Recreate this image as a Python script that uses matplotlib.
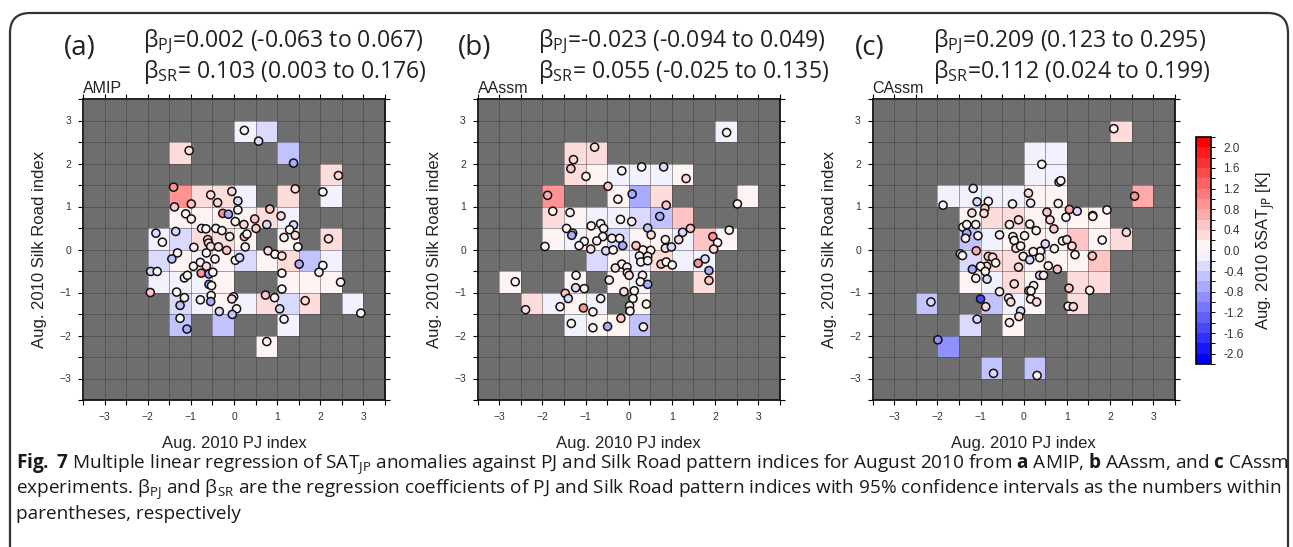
import matplotlib
matplotlib.use('Agg')
import matplotlib.pyplot as plt
import numpy as np
from matplotlib.colors import BoundaryNorm
from matplotlib.cm import ScalarMappable
from matplotlib.patches import FancyBboxPatch

plt.rcParams['font.family'] = ['Liberation Sans', 'DejaVu Sans']
plt.rcParams['mathtext.fontset'] = 'custom'
plt.rcParams['mathtext.rm'] = 'Open Sans'
plt.rcParams['mathtext.it'] = 'Open Sans:italic'
plt.rcParams['mathtext.bf'] = 'Open Sans:bold'

# ---- data: grid cells (left edge of PJ bin, lower edge of SR bin, dSAT) ----
cells_a = [(0.0, 2.5, -0.15), (0.5, 2.5, -0.3),
           (-1.5, 2.0, 0.3), (1.0, 2.0, -0.45),
           (2.0, 1.5, 0.25),
           (-1.5, 1.0, 0.8), (-1.0, 1.0, 0.35), (-0.5, 1.0, 0.35), (0.0, 1.0, -0.2), (1.0, 1.0, 0.25), (2.0, 1.0, -0.1),
           (-1.5, 0.5, 0.05), (-1.0, 0.5, 0.05), (-0.5, 0.5, 0.15), (0.0, 0.5, 0.1), (0.5, 0.5, 0.25), (1.0, 0.5, -0.1),
           (-2.0, 0.0, -0.1), (-1.5, 0.0, -0.25), (-1.0, 0.0, 0.25), (-0.5, 0.0, 0.2), (0.0, 0.0, 0.05), (1.0, 0.0, 0.02), (2.0, 0.0, 0.3),
           (-2.0, -0.5, -0.25), (-1.5, -0.5, 0.02), (-1.0, -0.5, -0.05), (-0.5, -0.5, 0.1), (0.0, -0.5, -0.3), (0.5, -0.5, 0.08),
           (1.0, -0.5, 0.2), (1.5, -0.5, -0.6), (2.0, -0.5, -0.1),
           (-2.0, -1.0, -0.1), (-1.5, -1.0, -0.05), (-1.0, -1.0, -0.2), (-0.5, -1.0, 0.05), (1.0, -1.0, 0.03), (1.5, -1.0, 0.08), (2.0, -1.0, 0.1),
           (-1.5, -1.5, -0.3), (-1.0, -1.5, -0.15), (-0.5, -1.5, 0.02), (0.0, -1.5, -0.15), (0.5, -1.5, 0.25), (1.0, -1.5, -0.35),
           (1.5, -1.5, 0.25), (2.5, -1.5, -0.1),
           (-1.5, -2.0, -0.5), (-0.5, -2.0, -0.5), (1.0, -2.0, -0.15),
           (0.5, -2.5, 0.08)]

cells_b = [(2.0, 2.5, -0.2),
           (-1.5, 2.0, 0.3), (-1.0, 2.0, 0.3),
           (-1.5, 1.5, 0.35), (-1.0, 1.5, 0.08), (-0.5, 1.5, -0.05), (0.0, 1.5, -0.1), (0.5, 1.5, -0.15), (1.0, 1.5, 0.15),
           (-2.0, 1.0, 0.8), (-0.5, 1.0, 0.05), (0.0, 1.0, -0.65), (0.5, 1.0, 0.3), (2.5, 1.0, 0.05),
           (-2.0, 0.5, 0.2), (-1.5, 0.5, 0.08), (-1.0, 0.5, -0.08), (-0.5, 0.5, -0.08), (0.0, 0.5, -0.25), (0.5, 0.5, -0.45), (1.0, 0.5, 0.55),
           (-2.0, 0.0, 0.05), (-1.5, 0.0, -0.08), (-1.0, 0.0, 0.03), (-0.5, 0.0, -0.3), (0.0, 0.0, 0.05), (0.5, 0.0, 0.0),
           (1.0, 0.0, -0.05), (1.5, 0.0, 0.55), (2.0, 0.0, 0.05),
           (-1.0, -0.5, -0.25), (-0.5, -0.5, 0.03), (0.0, -0.5, -0.1), (0.5, -0.5, 0.2), (1.0, -0.5, -0.08), (1.5, -0.5, -0.05),
           (-3.0, -1.0, 0.08), (-1.5, -1.0, 0.08), (-0.5, -1.0, 0.08), (0.0, -1.0, -0.15), (1.5, -1.0, 0.35),
           (-2.5, -1.5, 0.2), (-2.0, -1.5, -0.08), (-1.5, -1.5, 0.05), (-1.0, -1.5, -0.2), (0.0, -1.5, 0.03),
           (-1.5, -2.0, -0.05), (-1.0, -2.0, 0.05), (-0.5, -2.0, 0.05), (0.0, -2.0, -0.6)]

cells_c = [(2.0, 2.5, 0.2),
           (0.0, 2.0, -0.05), (0.5, 2.0, -0.05),
           (0.0, 1.5, -0.1), (0.5, 1.5, -0.08),
           (-2.0, 1.0, -0.08), (-1.5, 1.0, -0.2), (-1.0, 1.0, -0.08), (-0.5, 1.0, -0.2), (0.0, 1.0, 0.03), (0.5, 1.0, 0.0), (2.5, 1.0, 0.7),
           (-1.5, 0.5, 0.03), (-1.0, 0.5, 0.3), (-0.5, 0.5, 0.3), (0.0, 0.5, 0.08), (0.5, 0.5, 0.1), (1.0, 0.5, 0.15), (1.5, 0.5, 0.12),
           (-1.5, 0.0, -0.45), (-1.0, 0.0, -0.2), (-0.5, 0.0, 0.05), (0.0, 0.0, 0.02), (0.5, 0.0, 0.12), (1.0, 0.0, 0.4),
           (1.5, 0.0, 0.03), (2.0, 0.0, 0.3),
           (-1.5, -0.5, -0.3), (-1.0, -0.5, 0.2), (-0.5, -0.5, 0.2), (0.0, -0.5, 0.08), (0.5, -0.5, 0.15), (1.0, -0.5, 0.15), (1.5, -0.5, 0.5),
           (-1.5, -1.0, 0.0), (-1.0, -1.0, -0.15), (-0.5, -1.0, 0.25), (0.0, -1.0, 0.08), (1.0, -1.0, 0.35), (1.5, -1.0, 0.2),
           (-2.5, -1.5, -0.45), (-1.0, -1.5, -0.5), (-0.5, -1.5, -0.15), (0.0, -1.5, 0.05), (1.0, -1.5, 0.25),
           (-1.5, -2.0, -0.3), (-0.5, -2.0, 0.05),
           (-2.0, -2.5, -1.0),
           (-1.0, -3.0, -0.55), (0.0, -3.0, -0.55)]

# ---- data: ensemble members (PJ index, SR index, dSAT) ----
pj_a = [0.24, 0.57, -1.04, 1.38, 2.42, 2.06, 1.42, -1.40, -0.54, -0.05, -0.99, -0.38, 0.09, -1.38, -1.12, -0.99,
        -0.26, -0.13, 0.09, 0.83, 1.09, 0.03, 0.23, 0.48, 0.51, 0.76, 1.38, 1.29, 1.42, 1.16, 1.48, 2.19, -1.81,
        -1.66, -1.35, -0.75, -0.65, -0.42, -0.28, -0.10, 0.24, 0.30, -0.61, -0.59, -0.93, -0.54, -0.36, -0.17,
        0.26, -1.31, -1.44, -0.64, -0.44, 0.03, 0.13, 0.79, 0.95, 1.11, 1.51, 2.06, 1.97, 2.47, -1.93, -1.78,
        -0.94, -0.78, -0.76, -0.64, -0.58, -0.49, -1.15, -1.08, -0.58, -0.52, 1.11, 1.11, -1.94, -1.33, -1.15,
        -0.78, -0.53, -0.54, -0.01, -0.05, 0.73, 0.94, 1.65, -1.25, -0.34, 0.06, -0.04, 1.06, 1.16, -1.25,
        -1.09, 2.94, 0.76]
sr_a = [2.77, 2.52, 2.30, 2.01, 1.72, 1.34, 1.41, 1.45, 1.27, 1.35, 1.06, 1.09, 1.13, 0.99, 0.83, 0.71, 0.84, 0.82,
        0.92, 0.94, 0.78, 0.65, 0.58, 0.71, 0.49, 0.58, 0.57, 0.46, 0.33, 0.28, 0.06, 0.25, 0.38, 0.17, 0.42, 0.49,
        0.48, 0.49, 0.44, 0.30, 0.30, 0.36, 0.23, 0.15, 0.05, 0.07, 0.06, -0.02, 0.06, -0.08, -0.22, -0.08, -0.22,
        -0.25, -0.19, -0.03, -0.11, -0.15, -0.34, -0.37, -0.53, -0.76, -0.51, -0.51, -0.39, -0.30, -0.55, -0.39,
        -0.57, -0.53, -0.66, -0.60, -0.81, -0.84, -0.55, -0.92, -1.00, -0.99, -1.12, -1.17, -1.07, -1.21, -1.10,
        -1.15, -1.06, -1.12, -1.19, -1.30, -1.44, -1.38, -1.51, -1.38, -1.62, -1.60, -1.85, -1.48, -2.14]
val_a = [0, -0.3, 0.3, -0.7, 0.3, 0, 0.2, 0.8, 0.3, 0.3, 0.5, 0.3, -0.3, 0.4, 0, 0, 0.8, -0.7, 0, 0.5, 0.3, 0,
         0.3, 0.4, 0.4, -0.3, -0.4, 0, 0.3, 0, 0, 0.3, -0.3, 0, -0.3, 0, 0, -0.2, 0, 0, 0.4, 0, 0.3, 0.3, 0, 0.3,
         0.3, 0.4, 0, 0, -0.6, 0, 0, 0, -0.4, 0.3, 0, 0.3, -0.7, 0, 0, 0, -0.3, 0, 0, 0, 0.8, 0.3, -0.8, 0, 0, 0,
         -0.7, 0, 0, 0, 0.4, 0, 0, 0, 0, -0.8, 0, 0.3, 0.5, 0, 0.3, -0.6, -0.3, 0, -0.6, -0.3, 0, 0, -0.7, 0, 0]

pj_b = [2.27, -0.79, -1.28, -1.34, -0.99, -0.16, 0.30, 0.81, 1.33, -0.48, -1.88, -0.25, 0.08, 0.87, 2.52, -1.76,
        -1.36, -0.19, 0.07, 0.72, -1.44, -1.30, -1.32, -0.87, -0.65, -0.58, -0.60, -0.74, -1.03, -1.15, -0.88,
        -1.94, -0.39, -0.21, -0.14, -0.53, -0.36, 0.44, 0.52, 0.17, 0.33, 0.51, 0.25, 0.44, 0.28, 0.44, 0.85, 0.85,
        0.99, 1.16, 1.25, 1.43, 1.95, 2.06, 1.97, 2.33, 0.75, 0.87, 1.01, 1.61, 1.77, 1.86, 1.86, -0.16, -0.04,
        -0.31, -0.03, 0.01, 0.32, 0.27, 0.44, -0.45, -1.22, -1.23, -1.03, -1.47, -1.40, -0.11, 0.13, 0.10, -0.65,
        -1.59, -1.05, -0.83, 0.02, 0.03, 0.41, -2.39, -2.63, -0.18, -1.33, -0.83, -0.49, 0.34]
sr_b = [2.72, 2.38, 2.09, 1.88, 1.70, 1.83, 1.92, 1.92, 1.65, 1.47, 1.26, 1.17, 1.29, 1.03, 1.06, 0.89, 0.86, 0.70,
        0.65, 0.77, 0.49, 0.38, 0.33, 0.55, 0.60, 0.49, 0.30, 0.20, 0.19, 0.09, 0.01, 0.07, 0.26, 0.26, 0.09, -0.03,
        -0.01, 0.50, 0.34, 0.09, -0.01, -0.02, -0.15, -0.16, -0.29, -0.26, 0.23, 0.03, 0.06, 0.23, 0.40, 0.49, 0.30,
        0.16, 0.01, 0.45, -0.34, -0.29, -0.36, -0.32, -0.22, -0.49, -0.72, -0.34, -0.41, -0.43, -0.54, -0.60, -0.60,
        -0.75, -0.81, -0.71, -0.60, -0.89, -0.91, -1.02, -1.14, -0.98, -0.96, -1.14, -1.14, -1.33, -1.36, -1.45,
        -1.31, -1.43, -1.27, -1.40, -0.75, -1.60, -1.72, -1.82, -1.79, -1.80]
val_b = [0, 0.3, 0.2, 0.4, 0, 0, 0, -0.3, 0.3, 0.4, 0.6, 0, -0.7, 0.4, 0, 0, 0, 0, 0, -0.7, 0, 0.3, -0.7, 0, 0, 0,
         0, 0, 0, 0, 0.3, 0, 0, 0, -0.7, -0.3, 0, -0.6, 0.3, 0.4, 0, 0, 0, 0, 0, 0, 0, 0.3, -0.3, 0.3, -0.3, 0.5,
         0.8, 0, 0.3, 0, 0.4, 0, 0, 0.8, -0.4, -0.7, 0.4, 0, 0, 0.3, 0, 0.3, 0, 0, -0.7, 0, 0, -0.4, 0, 0.5, -0.4,
         0.3, 0, 0, 0, 0, 0.8, 0, 0, 0, 0, 0.3, 0, 0.4, 0, 0, -0.8, 0]

pj_c = [2.09, 0.42, 0.82, 0.86, -1.17, -1.87, -1.08, -0.82, -0.26, 0.11, 0.16, 0.80, -0.90, -0.92, -1.20, -1.41,
        -1.32, -1.11, -1.32, -1.35, -1.06, -0.56, -0.33, -0.12, -0.25, -0.22, -0.18, -0.07, 0.02, 0.14, 0.29, 0.54,
        0.61, 0.70, 0.98, 1.06, 1.24, 1.60, 1.60, 1.93, 2.38, 2.57, 0.90, 1.00, 1.12, 1.19, 1.59, 1.82, 0.71, 0.50,
        0.39, 0.22, -0.01, 0.14, 0.37, 0.57, 0.78, 0.37, 0.46, -0.12, -1.47, -1.42, -1.10, -0.82, -0.72, -0.65,
        -0.86, -1.00, -1.19, -0.89, -1.11, -0.85, -0.22, 0.23, 0.12, 0.17, -0.56, 1.05, 1.53, -2.15, -1.00, -0.88,
        -0.35, -0.30, 0.16, 0.30, 1.03, 1.15, -0.07, -0.11, -1.08, -0.33, -1.99, -0.70, 0.31]
sr_c = [2.81, 1.98, 1.57, 1.60, 1.42, 1.03, 1.11, 1.12, 1.06, 1.31, 1.08, 1.07, 0.96, 0.84, 0.85, 0.52, 0.58, 0.58,
        0.38, 0.26, 0.32, 0.34, 0.58, 0.69, 0.30, 0.21, 0.03, 0.08, 0.32, 0.59, 0.44, 0.87, 0.69, 0.48, 0.75, 0.93,
        0.89, 0.79, 0.77, 0.92, 0.40, 1.24, 0.20, 0.23, 0.08, -0.12, -0.15, 0.22, 0.02, 0.13, -0.04, -0.05, -0.16,
        -0.24, -0.19, -0.38, -0.46, -0.60, -0.60, -0.41, -0.10, -0.14, -0.03, -0.16, -0.18, -0.31, -0.39, -0.39,
        -0.46, -0.51, -0.67, -0.69, -0.80, -0.84, -0.96, -0.96, -0.98, -0.90, -0.95, -1.22, -1.15, -1.33, -1.13,
        -1.22, -1.15, -1.22, -1.32, -1.33, -1.43, -1.56, -1.62, -1.70, -2.10, -2.88, -2.93]
val_c = [0, 0, -0.3, 0, -0.2, 0, -0.3, 0, 0, 0.3, -0.2, 0, 0.4, 0.3, 0.3, 0, 0, 0, -0.8, 0, 0, 0, 0, 0.3, 0, 0,
         0.3, 0, 0, 0, 0, 0.4, 0.3, 0.4, 0, 0.6, -0.3, 0.3, 0, 0, 0.3, 0.8, 0, 0.3, 0.3, 0, 0.5, 0, 0, -0.3, 0, 0,
         0, -0.3, 0, 0, 0.4, -0.3, 0, 0.3, -0.4, 0, 0.6, 0.4, 0.3, 0, 0.2, 0, -0.8, 0, 0, -0.3, 0.3, 0, 0, 0, 0,
         0.4, 0, -0.4, -1.6, 0.3, 0, 0.3, 0, 0.3, 0, 0.3, -0.3, 0.3, -0.3, 0, -1.0, -0.4, 0]

experiments = ['AMIP', 'AAssm', 'CAssm']
panel_tags = ['(a)', '(b)', '(c)']
beta_pj = ['=0.002 (-0.063 to 0.067)', '=-0.023 (-0.094 to 0.049)', '=0.209 (0.123 to 0.295)']
beta_sr = ['= 0.103 (0.003 to 0.176)', '= 0.055 (-0.025 to 0.135)', '=0.112 (0.024 to 0.199)']
cbar_ticks = [-2.0, -1.6, -1.2, -0.8, -0.4, 0.0, 0.4, 0.8, 1.2, 1.6, 2.0]

# ---- figure ----
W, H = 1293, 547
fig = plt.figure(figsize=(W / 100, H / 100), dpi=100)

edges = np.arange(-3.5, 3.51, 0.5)
levels = np.round(np.arange(-2.2, 2.21, 0.2), 1)
cmap = plt.get_cmap('bwr')
norm = BoundaryNorm(levels, cmap.N)

ax_left = [83, 477.7, 872.7]
ax_w, ax_top, ax_bot = 302, 99, 400


def make_grid(cells):
    z = np.full((len(edges) - 1, len(edges) - 1), np.nan)
    for x0, y0, v in cells:
        i = int(round((x0 + 3.5) / 0.5))
        j = int(round((y0 + 3.5) / 0.5))
        z[j, i] = v
    return np.ma.masked_invalid(z)


all_cells = [cells_a, cells_b, cells_c]
all_pts = [(pj_a, sr_a, val_a), (pj_b, sr_b, val_b), (pj_c, sr_c, val_c)]

for k in range(3):
    ax = fig.add_axes([ax_left[k] / W, (H - ax_bot) / H, ax_w / W, (ax_bot - ax_top) / H])
    ax.set_facecolor('#6e6e6e')
    ax.pcolormesh(edges, edges, make_grid(all_cells[k]), cmap=cmap, norm=norm, zorder=1)
    pj, sr, vv = all_pts[k]
    ax.scatter(pj, sr, c=vv, cmap=cmap, norm=norm, s=34, edgecolors='#111111', linewidths=1.1, zorder=4)
    ax.set_xlim(-3.5, 3.5)
    ax.set_ylim(-3.5, 3.5)
    ax.set_xticks(np.arange(-3, 4, 1))
    ax.set_yticks(np.arange(-3, 4, 1))
    ax.set_xticks(np.arange(-3.5, 3.6, 0.5), minor=True)
    ax.set_yticks(np.arange(-3.5, 3.6, 0.5), minor=True)
    ax.set_axisbelow(False)
    ax.grid(which='both', color='#3a3a3a', lw=0.6, alpha=0.55, zorder=3)
    ax.tick_params(which='both', direction='out', top=True, right=True, length=3.5, width=0.8,
                   labelsize=7.5, labelcolor='#333333', pad=5)
    for sp in ax.spines.values():
        sp.set_linewidth(1.3)
        sp.set_color('#111111')
    ax.set_xlabel('Aug. 2010 PJ index', fontsize=12, labelpad=10, color='#222222')
    ax.set_ylabel('Aug. 2010 Silk Road index', fontsize=12, labelpad=9, color='#222222')
    ax.set_title(experiments[k], loc='left', fontsize=11.5, pad=4, color='#222222')

    # panel tag and regression coefficients
    fig.text((ax_left[k] - 3) / W, 1 - 48 / H, panel_tags[k], fontsize=20, family='Open Sans',
             ha='center', va='center', color='#222222')
    fig.text((ax_left[k] + 60) / W, 1 - 42 / H, 'β$_{\\mathrm{PJ}}$' + beta_pj[k], fontsize=16.6,
             family='Open Sans', ha='left', va='center', color='#222222')
    fig.text((ax_left[k] + 60) / W, 1 - 72 / H, 'β$_{\\mathrm{SR}}$' + beta_sr[k], fontsize=16.6,
             family='Open Sans', ha='left', va='center', color='#222222')

# colorbar
cax = fig.add_axes([1196 / W, (H - 364) / H, 15 / W, 227 / H])
sm = ScalarMappable(norm=norm, cmap=cmap)
cb = fig.colorbar(sm, cax=cax, ticks=cbar_ticks, boundaries=levels, format='%.1f')
cb.outline.set_linewidth(1.2)
cax.set_yticks(levels, minor=True)
cax.tick_params(which='both', direction='out', length=3, width=0.7, labelsize=8.5, labelcolor='#333333', pad=6)
cb.set_label('Aug. 2010 δSAT$_{\\mathrm{JP}}$ [K]', fontsize=12, labelpad=8, color='#222222',
             math_fontfamily='dejavusans')

# rounded frame
frame = FancyBboxPatch((0.10, -0.6), 12.78, 5.94, boxstyle='round,pad=0,rounding_size=0.2',
                       transform=fig.dpi_scale_trans, fill=False, lw=1.6, ec='#333333')
fig.patches.append(frame)

# caption
cap1 = fig.text(16 / W, 1 - 464 / H,
                '$\\mathbf{Fig.}$ $\\mathbf{7}$ Multiple linear regression of SAT$_{\\mathrm{JP}}$ anomalies against PJ and '
                'Silk Road pattern indices for August 2010 from $\\mathbf{a}$ AMIP, $\\mathbf{b}$ AAssm, '
                'and $\\mathbf{c}$ CAssm', fontsize=12, family='Open Sans', va='center', color='#1a1a1a')
cap2 = fig.text(16 / W, 1 - 490 / H,
                'experiments. β$_{\\mathrm{PJ}}$ and β$_{\\mathrm{SR}}$ are the regression coefficients of PJ and '
                'Silk Road pattern indices with 95% confidence intervals as the numbers within',
                fontsize=12, family='Open Sans', va='center', color='#1a1a1a')
cap3 = fig.text(16 / W, 1 - 514 / H, 'parentheses, respectively', fontsize=12, family='Open Sans',
                va='center', color='#1a1a1a')

# fit caption width to the figure box
renderer = fig.canvas.get_renderer()
wpx = cap1.get_window_extent(renderer).width
fs = 12 * (1283 - 16) / wpx
for t in (cap1, cap2, cap3):
    t.set_fontsize(fs)

fig.savefig('out.png', dpi=100)
